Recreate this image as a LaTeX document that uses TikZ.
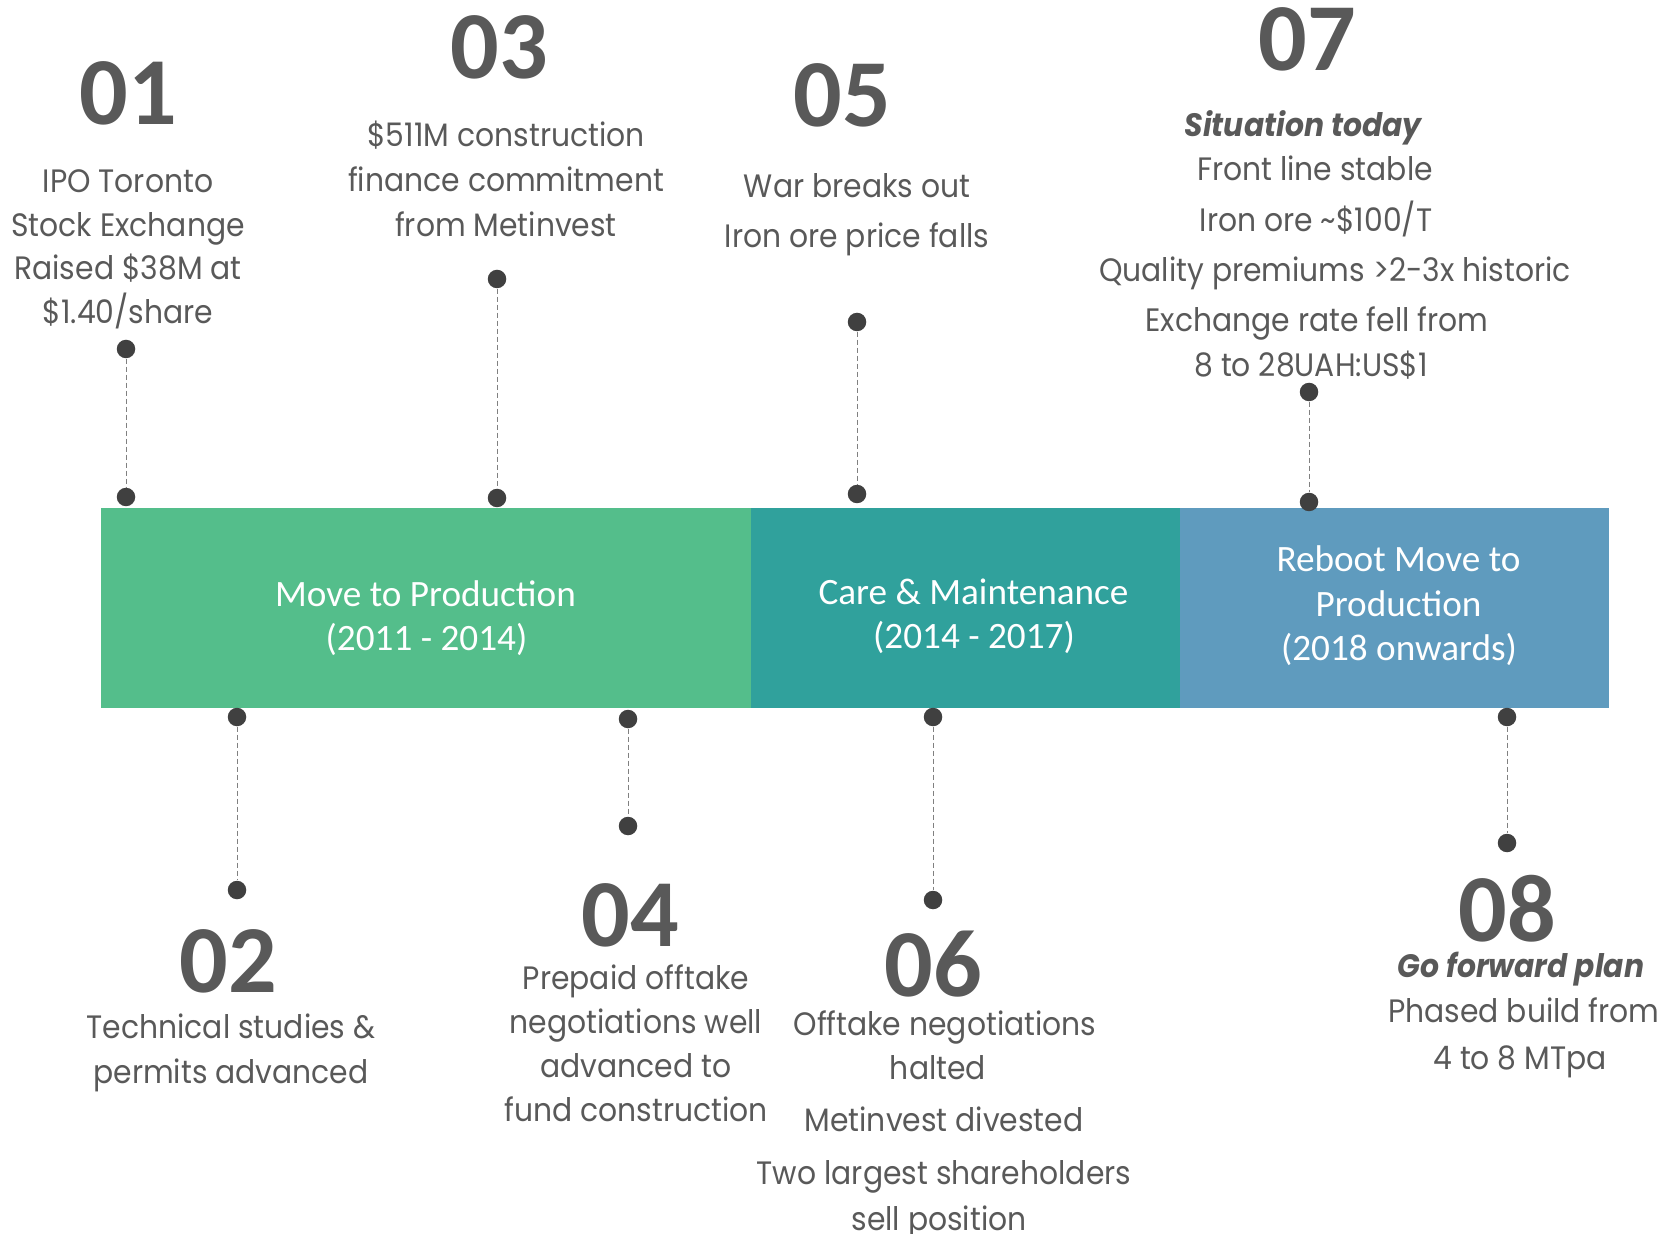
\documentclass[tikz,border=0pt]{standalone}
\usepackage{fontspec}
\setmainfont{Carlito}
\newfontfamily\bodyfont[FakeStretch=0.92]{Poppins}
\newfontfamily\numfont{Carlito}
\definecolor{cgreen}{RGB}{84,190,139}
\definecolor{cteal}{RGB}{48,161,156}
\definecolor{cblue}{RGB}{95,155,190}
\definecolor{txtgray}{RGB}{89,89,89}
\definecolor{dotgray}{RGB}{64,64,64}
\definecolor{linegray}{RGB}{128,128,128}
\tikzset{
  bar/.style={draw=none, inner sep=0pt, minimum height=100pt},
  bartext/.style={font=\fontsize{18.6}{22}\selectfont, text=white, inner sep=0pt, text height=11.75pt, text depth=0pt, anchor=center},
  numtext/.style={font=\numfont\bfseries\fontsize{48}{50}\selectfont, text=txtgray, inner sep=0pt, text height=30.3pt, text depth=0pt, anchor=center},
  body/.style={font=\bodyfont\fontsize{16.2}{18}\selectfont, text=txtgray, inner sep=0pt, text height=11.3pt, text depth=0pt, anchor=center},
  bodybi/.style={body, font=\bodyfont\bfseries\itshape\fontsize{16.2}{18}\selectfont},
  dot/.style={circle, fill=dotgray, inner sep=0pt, minimum size=9.25pt},
  vline/.style={draw=linegray, line width=0.5pt, dash pattern=on 2.5pt off 1.5pt}
}
\begin{document}
\begin{tikzpicture}[x=0.5pt,y=-0.5pt]
\useasboundingbox (0,0) rectangle (1663,1234);
% bars
\node[bar, fill=cgreen, minimum width=325pt] (bar1) at (425.75,608) {};
\node[bar, fill=cteal, minimum width=214.5pt] (bar2) at (965,608) {};
\node[bar, fill=cblue, minimum width=214.75pt] (bar3) at (1394.25,608) {};
\node[bartext] (b1a) at (425.5,594.5) {Move to Production};
\node[bartext] (b1b) at (426.5,638.5) {(2011 - 2014)};
\node[bartext] (b2a) at (973.5,592.5) {Care \& Maintenance};
\node[bartext] (b2b) at (974,636.5) {(2014 - 2017)};
\node[bartext] (b3a) at (1398.5,560) {Reboot Move to};
\node[bartext] (b3b) at (1398.5,605) {Production};
\node[bartext] (b3c) at (1399,648.5) {(2018 onwards)};
% dots and dashed connectors
\node[dot] (d1t) at (126,349) {};
\node[dot] (d1b) at (126,497) {};
\node[dot] (d3t) at (497,279) {};
\node[dot] (d3b) at (497,498) {};
\node[dot] (d5t) at (857,322) {};
\node[dot] (d5b) at (857,494) {};
\node[dot] (d7t) at (1309,392) {};
\node[dot] (d7b) at (1309,502) {};
\node[dot] (d2t) at (237,717) {};
\node[dot] (d2b) at (237,890) {};
\node[dot] (d4t) at (628,719) {};
\node[dot] (d4b) at (628,826) {};
\node[dot] (d6t) at (933,717) {};
\node[dot] (d6b) at (933,900) {};
\node[dot] (d8t) at (1507,717) {};
\node[dot] (d8b) at (1507,843) {};
\foreach \a in {1,...,8}{\draw[vline] (d\a t) -- (d\a b);}
% numbers
\node[numtext] (n1) at (128,94) {01};
\node[numtext] (n3) at (499,48) {03};
\node[numtext] (n5) at (842,96) {05};
\node[numtext] (n7) at (1307,40) {07};
\node[numtext] (n2) at (228,962) {02};
\node[numtext] (n4) at (630,916) {04};
\node[numtext] (n6) at (933,966) {06};
\node[numtext] (n8) at (1507,911) {08};
% 01
\node[body] (t1a) at (128,181) {IPO Toronto};
\node[body] (t1b) at (128,225) {Stock Exchange};
\node[body] (t1c) at (128,268) {Raised \$38M at};
\node[body] (t1d) at (128,312) {\$1.40/share};
% 03
\node[body] (t3a) at (506,135) {\$511M construction};
\node[body] (t3b) at (506,180) {finance commitment};
\node[body] (t3c) at (506,225) {from Metinvest};
% 05
\node[body] (t5a) at (857,186) {War breaks out};
\node[body] (t5b) at (857,236) {Iron ore price falls};
% 07
\node[bodybi] (t7a) at (1303,125) {Situation today};
\node[body] (t7b) at (1315,169) {Front line stable};
\node[body] (t7c) at (1316,220) {Iron ore \textasciitilde\$100/T};
\node[body] (t7d) at (1335,270) {Quality premiums >2-3x historic};
\node[body] (t7e) at (1317,320) {Exchange rate fell from};
\node[body] (t7f) at (1311,365) {8 to 28UAH:US\$1};
% 02
\node[body] (t2a) at (231,1027) {Technical studies \&};
\node[body] (t2b) at (231,1072) {permits advanced};
% 04
\node[body] (t4a) at (636,978) {Prepaid offtake};
\node[body] (t4b) at (636,1022) {negotiations well};
\node[body] (t4c) at (636,1066) {advanced to};
\node[body] (t4d) at (636,1110) {fund construction};
% 06
\node[body] (t6a) at (945,1024) {Offtake negotiations};
\node[body] (t6b) at (938,1068) {halted};
\node[body] (t6c) at (944,1120) {Metinvest divested};
\node[body] (t6d) at (944,1173) {Two largest shareholders};
\node[body] (t6e) at (939,1219) {sell position};
% 08
\node[bodybi] (t8a) at (1521,966) {Go forward plan};
\node[body] (t8b) at (1524,1011) {Phased build from};
\node[body] (t8c) at (1520,1058) {4 to 8 MTpa};
\end{tikzpicture}
\end{document}
